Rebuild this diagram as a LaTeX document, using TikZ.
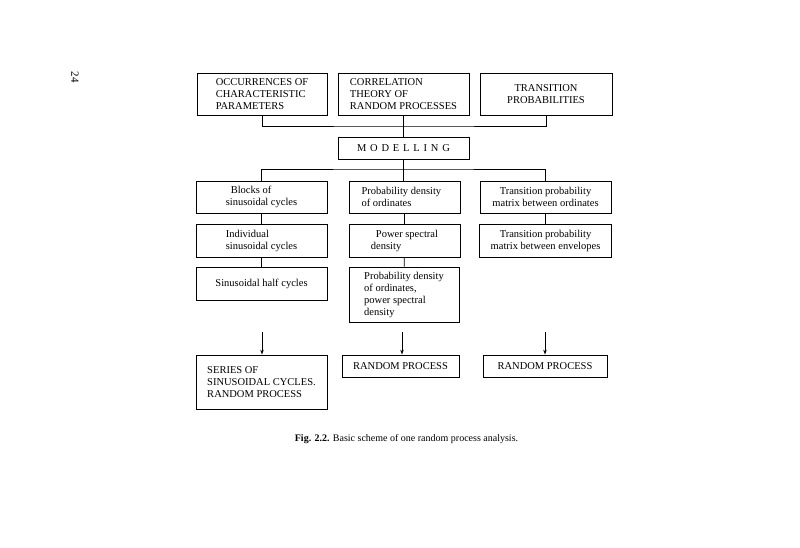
\documentclass[tikz,border=0pt]{standalone}
\usepackage{fontspec}
\setmainfont{Liberation Serif}
\usetikzlibrary{arrows.meta}

\begin{document}
\begin{tikzpicture}[x=1pt,y=-1pt,
    box/.style={draw, line width=0.8pt, inner sep=0pt, align=left,
                font=\fontsize{10.5}{12}\selectfont},
    link/.style={line width=0.8pt},
    arr/.style={line width=0.8pt, -{Stealth[length=5pt,width=3.5pt]}}]
    \useasboundingbox (0,0) rectangle (800,547);

    % input boxes
    \node[box, minimum width=130pt, minimum height=42pt] (occ) at (262,94) {OCCURRENCES OF\\CHARACTERISTIC\\PARAMETERS};
    \node[box, minimum width=131pt, minimum height=42pt] (corr) at (403.5,94) {CORRELATION\\THEORY OF\\RANDOM PROCESSES};
    \node[box, minimum width=132pt, minimum height=42pt, align=center] (trans) at (546,94) {TRANSITION\\PROBABILITIES};

    \node[box, minimum width=131pt, minimum height=22pt] (model) at (403.5,148) {{\spaceskip=3.8pt M O D E L L I N G}};

    % left column
    \node[box, minimum width=131pt, minimum height=32pt] (blocks) at (261.5,197) {\hspace*{5pt}Blocks of\\sinusoidal cycles};
    \node[box, minimum width=131pt, minimum height=33pt] (indiv) at (261.5,240.5) {Individual\\sinusoidal cycles};
    \node[box, minimum width=131pt, minimum height=33pt] (half) at (261.5,283.5) {Sinusoidal half cycles};

    % middle column
    \node[box, minimum width=111pt, minimum height=32pt] (pdord) at (404.5,197) {Probability density\\of ordinates\hspace*{36pt}};
    \node[box, minimum width=111pt, minimum height=33pt] (psd) at (404.5,240.5) {\hspace*{5pt}Power spectral\\density};
    \node[box, minimum width=110pt, minimum height=55pt] (both) at (404,294.5) {Probability density\\of ordinates,\\power spectral\\density};

    % right column
    \node[box, minimum width=131pt, minimum height=32pt, align=center] (tpord) at (545.5,197) {Transition probability\\matrix between ordinates};
    \node[box, minimum width=132pt, minimum height=33pt, align=center] (tpenv) at (545.5,240.5) {Transition probability\\matrix between envelopes};

    % results
    \node[box, minimum width=131pt, minimum height=54pt] (series) at (261.5,382) {SERIES OF\\SINUSOIDAL CYCLES.\\RANDOM PROCESS};
    \node[box, minimum width=117pt, minimum height=22pt] (rp1) at (400.5,366) {RANDOM PROCESS};
    \node[box, minimum width=124pt, minimum height=22pt] (rp2) at (545,366) {RANDOM PROCESS};

    % buses
    \coordinate (bus1) at (403.5,126);
    \coordinate (bus2) at (403.5,169);
    \draw[link] (occ.south) |- (bus1) -| (trans.south);
    \draw[link] (corr.south) -- (model.north);
    \draw[link] (blocks.north) |- (bus2) -| (tpord.north);
    \draw[link] (model.south) -- (model.south |- pdord.north);

    \draw[link] (blocks) -- (indiv);
    \draw[link] (indiv) -- (half);
    \draw[link] (pdord) -- (psd);
    \draw[link] (psd) -- (both);
    \draw[link] (tpord) -- (tpenv);

    % arrows
    \coordinate (a1) at (262,332);
    \coordinate (a2) at (402,332);
    \coordinate (a3) at (545,332);
    \draw[arr] (a1) -- (a1 |- series.north);
    \draw[arr] (a2) -- (a2 |- rp1.north);
    \draw[arr] (a3) -- (a3 |- rp2.north);

    \node[rotate=-90, font=\fontsize{11}{12}\selectfont] (page) at (75,77) {24};
    \node[font=\fontsize{10}{12}\selectfont] (cap) at (406.5,439) {\textbf{Fig. 2.2.} Basic scheme of one random process analysis.};
\end{tikzpicture}
\end{document}
